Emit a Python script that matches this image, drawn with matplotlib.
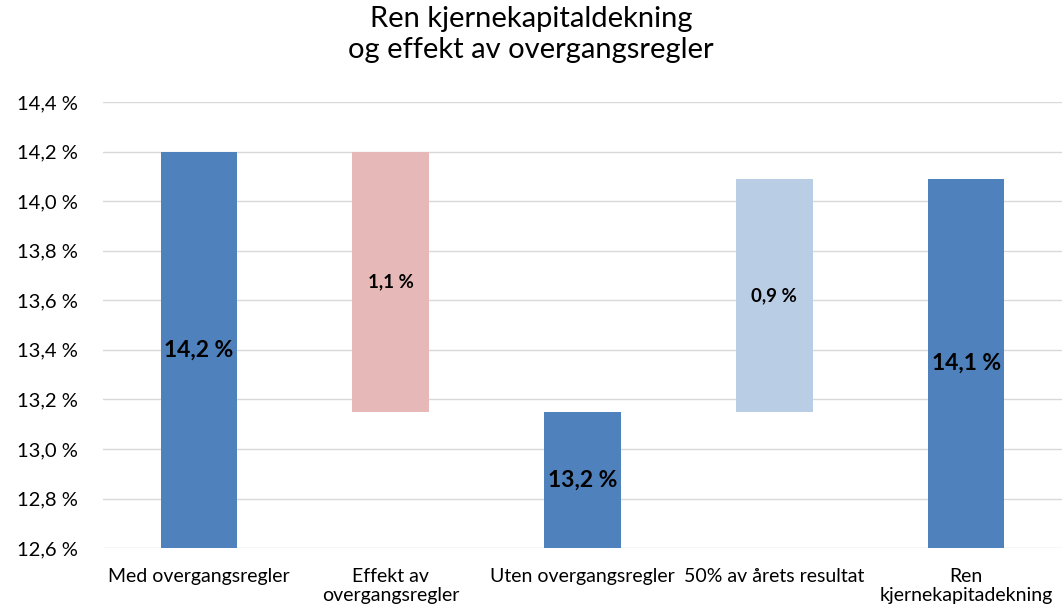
import matplotlib.pyplot as plt
import numpy as np

# waterfall data (percent)
categories = ['Med overgangsregler', 'Effekt av\novergangsregler', 'Uten overgangsregler',
              '50% av årets resultat', 'Ren\nkjernekapitadekning']
bottoms = [12.6, 13.15, 12.6, 13.15, 12.6]
tops = [14.2, 14.2, 13.15, 14.09, 14.09]
value_labels = ['14,2 %', '1,1 %', '13,2 %', '0,9 %', '14,1 %']
yticks = [12.6, 12.8, 13.0, 13.2, 13.4, 13.6, 13.8, 14.0, 14.2, 14.4]

dark = '#4F81BD'
colors = [dark, '#E6B9B8', dark, '#B9CDE5', dark]
label_sizes = [16.5, 13.5, 16.5, 13.5, 16.5]

plt.rcParams['font.family'] = ['Lato', 'DejaVu Sans']

fig = plt.figure(figsize=(10.62, 6.11), dpi=100)
ax = fig.add_axes([0.097, 0.103, 0.903, 0.730])

x = np.arange(len(categories))
heights = np.array(tops) - np.array(bottoms)
ax.bar(x, heights, bottom=bottoms, width=0.4, color=colors, zorder=2)

for xi, b, h, lab, fs in zip(x, bottoms, heights, value_labels, label_sizes):
    ax.text(xi, b + h / 2, lab, ha='center', va='center', fontsize=fs,
            fontweight='bold', color='black', zorder=3)

ax.set_xlim(-0.5, len(categories) - 0.5)
ax.set_ylim(12.6, 14.4)
ax.set_yticks(yticks)
ax.set_yticklabels([('%.1f %%' % v).replace('.', ',') for v in yticks], fontsize=14.5)
ax.set_xticks(x)
ax.set_xticklabels(categories, fontsize=14, linespacing=1.2)
ax.tick_params(length=0)
ax.tick_params(axis='y', pad=18)
ax.tick_params(axis='x', pad=14)

ax.grid(axis='y', color='#D9D9D9', linewidth=1, zorder=0)
for s in ax.spines.values():
    s.set_visible(False)

fig.suptitle('Ren kjernekapitaldekning\nog effekt av overgangsregler', fontsize=21,
             y=0.99, va='top', linespacing=1.25)

fig.savefig('out.png', dpi=100)
